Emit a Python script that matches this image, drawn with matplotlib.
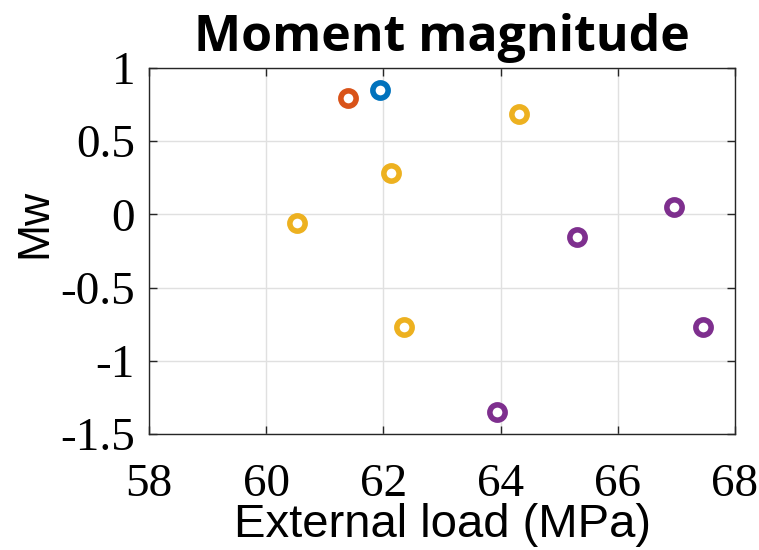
import numpy as np
import matplotlib.pyplot as plt

# data
load_blue = [61.94]
mw_blue = [0.85]
load_orange = [61.40]
mw_orange = [0.795]
load_yellow = [64.31, 62.13, 60.53, 62.35]
mw_yellow = [0.686, 0.283, -0.059, -0.77]
load_purple = [65.30, 66.96, 67.45, 63.94]
mw_purple = [-0.154, 0.05, -0.77, -1.35]

xticks = [58, 60, 62, 64, 66, 68]
yticks = [-1.5, -1, -0.5, 0, 0.5, 1]
ytick_labels = ['-1.5', '-1', '-0.5', '0', '0.5', '1']

fig = plt.figure(figsize=(7.59, 5.5), dpi=100)
ax = fig.add_axes([149 / 759, 116 / 550, 586 / 759, 366 / 550])

for xs, ys, c in [(load_blue, mw_blue, '#0072BD'),
                  (load_orange, mw_orange, '#D95319'),
                  (load_yellow, mw_yellow, '#EDB120'),
                  (load_purple, mw_purple, '#7E2F8E')]:
    ax.plot(xs, ys, 'o', ms=11, mfc='white', mec=c, mew=4, ls='none')

ax.set_xlim(58, 68)
ax.set_ylim(-1.5, 1)
ax.set_xticks(xticks)
ax.set_yticks(yticks)
ax.set_yticklabels(ytick_labels)
ax.grid(True, color='#e0e0e0', lw=1)
ax.set_axisbelow(True)
ax.tick_params(direction='in', top=True, right=True, length=6, width=1, color='#262626')
ax.tick_params(axis='x', pad=21)
ax.tick_params(axis='y', pad=10)
for lab in ax.get_xticklabels() + ax.get_yticklabels():
    lab.set_family('Liberation Serif')
    lab.set_fontsize(34)
for s in ax.spines.values():
    s.set_color('#262626')
    s.set_linewidth(1)

ax.set_xlabel('External load (MPa)', fontsize=34, family='Liberation Sans', labelpad=-2)
ax.set_ylabel('Mw', fontsize=32, family='Liberation Sans')
ax.yaxis.set_label_coords(-0.16, 0.574)
ax.set_title('Moment magnitude', fontsize=36, fontweight='bold', family='Open Sans', pad=12)

plt.savefig('out.png')
